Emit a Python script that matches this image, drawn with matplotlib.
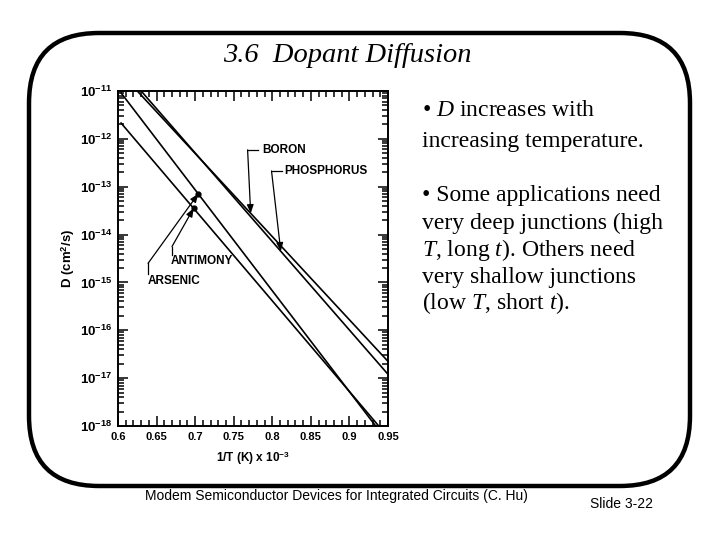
import numpy as np
import matplotlib
matplotlib.use('Agg')
import matplotlib.pyplot as plt
from matplotlib.patches import FancyBboxPatch
from matplotlib.ticker import MultipleLocator, LogLocator, NullFormatter, FixedLocator

plt.rcParams['mathtext.fontset'] = 'custom'
plt.rcParams['mathtext.rm'] = 'Liberation Serif'
plt.rcParams['mathtext.it'] = 'Liberation Serif:italic'
plt.rcParams['mathtext.sf'] = 'Liberation Sans:bold'
plt.rcParams['mathtext.bf'] = 'Liberation Sans:bold'

# data: 1/T (x 1e-3 1/K) and D (cm^2/s) at the ends of each line
boron_x = [0.625, 0.95]
boron_d = [1e-11, 10 ** -16.65]
phos_x = [0.630, 0.95]
phos_d = [1e-11, 10 ** -16.92]
arsenic_x = [0.604, 0.934]
arsenic_d = [10 ** -11.04, 1e-18]
antimony_x = [0.604, 0.938]
antimony_d = [10 ** -11.67, 1e-18]

x_ticks = [0.6, 0.65, 0.7, 0.75, 0.8, 0.85, 0.9, 0.95]
x_ticklabels = ['0.6', '0.65', '0.7', '0.75', '0.8', '0.85', '0.9', '0.95']
y_exps = [-11, -12, -13, -14, -15, -16, -17, -18]

bullets = [r'• $\mathit{D}$ increases with',
           'increasing temperature.',
           '• Some applications need',
           'very deep junctions (high',
           r'$\mathit{T}$, long $\mathit{t}$). Others need',
           'very shallow junctions',
           r'(low $\mathit{T}$, short $\mathit{t}$).']
bullet_y = [110, 141, 195, 223, 250, 277, 303]


def on_line(xs, ds, x):
    # point on a straight line in log D
    return 10 ** np.interp(x, xs, np.log10(ds))


fig = plt.figure(figsize=(7.2, 5.4), dpi=100)

# slide background in pixel coordinates
bg = fig.add_axes([0, 0, 1, 1])
bg.set_xlim(0, 720)
bg.set_ylim(540, 0)
bg.axis('off')
bg.add_patch(FancyBboxPatch((29, 33), 661, 453,
                            boxstyle='round,pad=0,rounding_size=70',
                            fill=False, lw=3.2, ec='black'))
bg.text(347, 55, '3.6  Dopant Diffusion', ha='center', va='center',
        family='Liberation Serif', style='italic', fontsize=20.5)
for s, yy in zip(bullets, bullet_y):
    bg.text(422, yy, s, ha='left', va='center', family='Liberation Serif',
            fontsize=17)
bg.text(145, 496, 'Modem Semiconductor Devices for Integrated Circuits (C. Hu)',
        ha='left', va='center', family='Liberation Sans', fontsize=10)
bg.text(590, 504, 'Slide 3-22', ha='left', va='center',
        family='Liberation Sans', fontsize=10)

# the plot
ax = fig.add_axes([118 / 720, 1 - 426 / 540, 270 / 720, 335 / 540])
lw = 1.2
ax.plot(boron_x, boron_d, c='black', lw=lw)
ax.plot(phos_x, phos_d, c='black', lw=lw)
ax.plot(arsenic_x, arsenic_d, c='black', lw=lw)
ax.plot(antimony_x, antimony_d, c='black', lw=lw)
ax.set_yscale('log')
ax.set_xlim(0.6, 0.95)
ax.set_ylim(1e-18, 1e-11)

ax.xaxis.set_major_locator(FixedLocator(x_ticks))
ax.xaxis.set_minor_locator(MultipleLocator(0.01))
ax.set_xticklabels(x_ticklabels)
ax.yaxis.set_major_locator(FixedLocator([10.0 ** e for e in y_exps]))
ax.set_yticklabels([r'$\mathsf{10^{%d}}$' % e for e in y_exps])
ax.yaxis.set_minor_locator(LogLocator(base=10, subs=np.arange(2, 10), numticks=20))
ax.yaxis.set_minor_formatter(NullFormatter())
ax.tick_params(which='both', direction='in', top=True, right=True, width=1.1)
ax.tick_params(which='major', length=7, pad=4)
ax.tick_params(which='minor', length=4)
for lab in ax.get_xticklabels():
    lab.set_fontweight('bold')
    lab.set_family('Liberation Sans')
    lab.set_fontsize(8)
for lab in ax.get_yticklabels():
    lab.set_fontsize(9.5)
for sp in ax.spines.values():
    sp.set_linewidth(1.4)

ax.set_xlabel(r'1/T (K) x 10$^{\mathsf{-3}}$', family='Liberation Sans',
              fontweight='bold', fontsize=8.5, labelpad=6)
ax.set_ylabel(r'D (cm$^{\mathsf{2}}$/s)', family='Liberation Sans',
              fontweight='bold', fontsize=9.5, labelpad=2)

lab_kw = dict(family='Liberation Sans', fontweight='bold', fontsize=8.5,
              va='center', ha='left')
arrow_kw = dict(arrowstyle='-|>,head_length=0.5,head_width=0.2', color='black',
                lw=0.9, shrinkA=0, shrinkB=0)

# BORON
bx = 0.772
ax.text(0.787, 10 ** -12.23, 'BORON', **lab_kw)
ax.plot([0.781, 0.768], [10 ** -12.23, 10 ** -12.23], c='black', lw=0.9)
ax.annotate('', xy=(bx, on_line(boron_x, boron_d, bx)), xytext=(0.768, 10 ** -12.23),
            arrowprops=arrow_kw)
# PHOSPHORUS
px = 0.811
ax.text(0.816, 10 ** -12.67, 'PHOSPHORUS', **lab_kw)
ax.plot([0.813, 0.799], [10 ** -12.67, 10 ** -12.67], c='black', lw=0.9)
ax.annotate('', xy=(px, on_line(phos_x, phos_d, px)), xytext=(0.799, 10 ** -12.67),
            arrowprops=arrow_kw)
# ARSENIC
ax_x = 0.704
ax.text(0.638, 10 ** -14.98, 'ARSENIC', **lab_kw)
ax.plot([0.639, 0.639], [10 ** -14.82, 10 ** -14.6], c='black', lw=0.9)
ax.annotate('', xy=(ax_x, on_line(arsenic_x, arsenic_d, ax_x)), xytext=(0.639, 10 ** -14.6),
            arrowprops=arrow_kw)
ax.plot([ax_x], [on_line(arsenic_x, arsenic_d, ax_x)], 'o', c='black', ms=3.5)
# ANTIMONY
sx = 0.698
ax.text(0.668, 10 ** -14.56, 'ANTIMONY', **lab_kw)
ax.plot([0.670, 0.670], [10 ** -14.42, 10 ** -14.25], c='black', lw=0.9)
ax.annotate('', xy=(sx, on_line(antimony_x, antimony_d, sx)), xytext=(0.670, 10 ** -14.25),
            arrowprops=arrow_kw)
ax.plot([sx], [on_line(antimony_x, antimony_d, sx)], 'o', c='black', ms=3.5)

fig.savefig('out.png', dpi=100)
